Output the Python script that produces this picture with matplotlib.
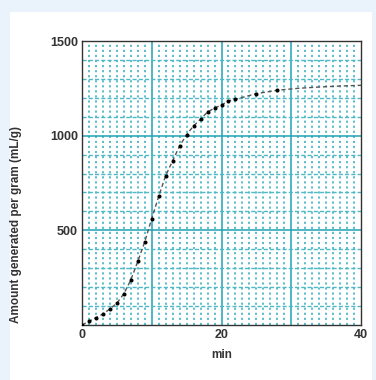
import numpy as np
import matplotlib
matplotlib.use('Agg')
import matplotlib.pyplot as plt
from matplotlib.patches import Rectangle

# measured points (min, mL/g)
t_pts = [0, 1, 2, 3, 4, 5, 6, 7, 8, 9, 10, 11, 12, 13, 14, 15, 16, 17, 18, 19, 20, 21, 22, 25, 28]
v_pts = [0, 20, 38, 58, 85, 115, 165, 238, 336, 440, 562, 680, 789, 868, 946, 1005, 1052,
         1087, 1125, 1146, 1162, 1183, 1192, 1222, 1240]

# dashed trend line, continued past the last point
t_fit = t_pts + [31, 34, 37, 40]
v_fit = v_pts + [1250, 1257, 1262, 1266]

xticks = [0, 20, 40]
yticks = [500, 1000, 1500]

teal = '#1fa3b4'
teal_light = '#4fb9c6'

plt.rcParams['font.family'] = ['Liberation Sans', 'DejaVu Sans']

fig = plt.figure(figsize=(3.76, 3.80), dpi=100)
fig.patch.set_facecolor('#eaf2fb')
bg = Rectangle((10 / 376, 0), 362 / 376, 368 / 380, transform=fig.transFigure,
               facecolor='white', edgecolor='none', zorder=-10)
fig.add_artist(bg)

ax = fig.add_axes([82 / 376, 1 - 325 / 380, 279 / 376, 284 / 380])
ax.set_zorder(5)
ax.set_facecolor('white')
ax.set_xlim(0, 40)
ax.set_ylim(0, 1500)

# graph paper grid
for x in range(1, 40):
    if x % 10 == 0:
        ax.axvline(x, color=teal, lw=1.1, zorder=1)
    else:
        ax.axvline(x, color=teal_light, lw=1.3, ls=(0, (1.2, 1.6)), zorder=1)
for y in range(100, 1500, 100):
    if y % 500 == 0:
        ax.axhline(y, color=teal, lw=1.1, zorder=1)
    else:
        ax.axhline(y, color=teal_light, lw=1.0, ls=(0, (3, 1.5)), zorder=1)

ax.plot(t_fit, v_fit, color='#555555', lw=1.0, ls=(0, (3, 2)), zorder=3)
ax.plot(t_pts, v_pts, 'o', color='black', markersize=1.9, zorder=4)

ax.set_xticks(xticks)
ax.set_yticks(yticks)
ax.tick_params(length=0, labelsize=9, pad=3)
for lab in ax.get_xticklabels() + ax.get_yticklabels():
    lab.set_fontweight('bold')
    lab.set_color('#333333')
ax.set_xlabel('min', fontsize=8.5, fontweight='bold', color='#333333', labelpad=6)
ax.set_ylabel('Amount generated per gram (mL/g)', fontsize=8.5, fontweight='bold',
              color='#333333')
ax.yaxis.set_label_coords(-0.215, 0.355)

for s in ax.spines.values():
    s.set_color('#333333')
    s.set_linewidth(1.0)

fig.savefig('out.png', dpi=100, facecolor=fig.get_facecolor())
